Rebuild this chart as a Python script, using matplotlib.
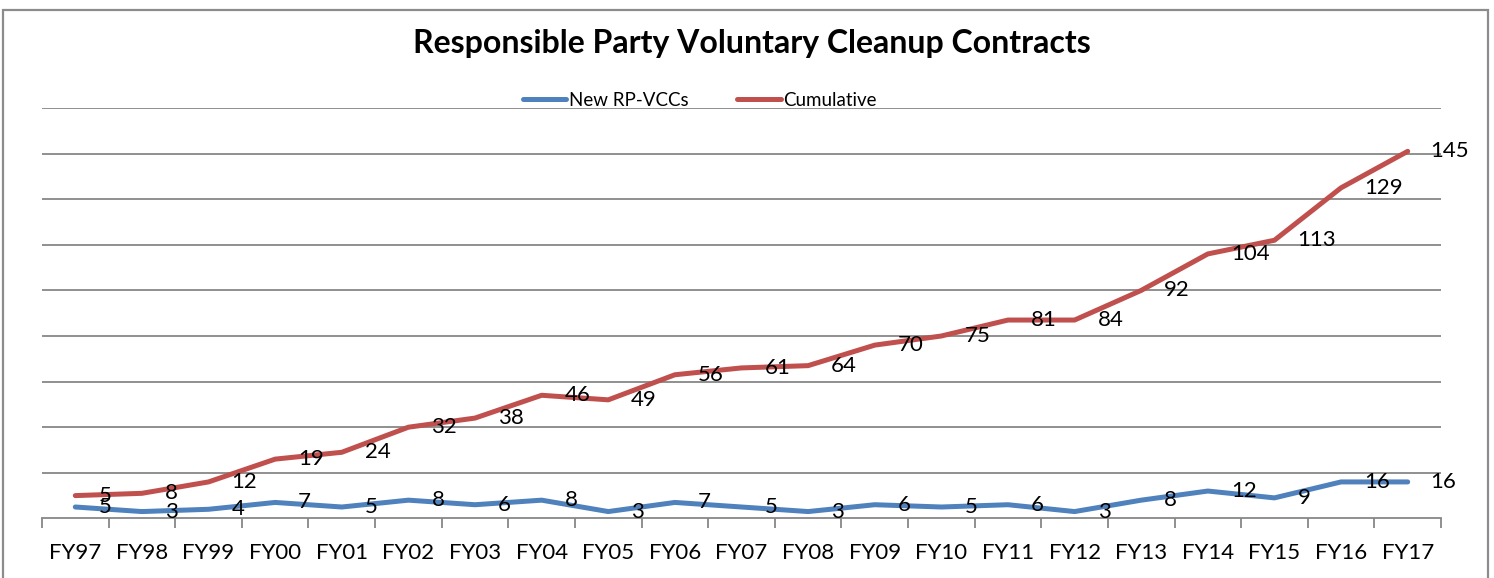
import matplotlib
matplotlib.use("Agg")
import matplotlib.pyplot as plt
from matplotlib.patches import Rectangle
from matplotlib.lines import Line2D
import matplotlib.transforms as mtransforms

plt.rcParams['font.family'] = ['Lato', 'DejaVu Sans']

# data
years = ["FY97", "FY98", "FY99", "FY00", "FY01", "FY02", "FY03", "FY04", "FY05", "FY06", "FY07",
         "FY08", "FY09", "FY10", "FY11", "FY12", "FY13", "FY14", "FY15", "FY16", "FY17"]
new_vccs = [5, 3, 4, 7, 5, 8, 6, 8, 3, 7, 5, 3, 6, 5, 6, 3, 8, 12, 9, 16, 16]
cumulative = [5, 8, 12, 19, 24, 32, 38, 46, 49, 56, 61, 64, 70, 75, 81, 84, 92, 104, 113, 129, 145]

blue = '#4F81BD'
red = '#C0504D'
grid_c = '#878787'

W, H = 1494, 578
fig = plt.figure(figsize=(W / 100, H / 100), dpi=100)

# chart frame
fig.patches.append(Rectangle((3 / W, -0.05), (1488 - 3) / W, 1 - 10 / H + 0.05,
                             transform=fig.transFigure, fill=False,
                             edgecolor='#8c8c8c', lw=1.6))

ax = fig.add_axes([42 / W, 1 - 518.4 / H, (1441 - 42) / W, (518.4 - 108) / H])

x = list(range(len(years)))
# stacked line chart (like the excel original)
stacked = [a + b for a, b in zip(new_vccs, cumulative)]
ax.plot(x, new_vccs, color=blue, lw=3.6, solid_capstyle='round', solid_joinstyle='round', zorder=3)
ax.plot(x, stacked, color=red, lw=3.6, solid_capstyle='round', solid_joinstyle='round', zorder=3)

# data labels right of points
off = mtransforms.offset_copy(ax.transData, fig=fig, x=23, y=0, units='dots')
for i in x:
    ax.text(i, new_vccs[i], str(new_vccs[i]), transform=off, ha='left', va='center',
            fontsize=16, color='black', zorder=4)
    ax.text(i, stacked[i], str(cumulative[i]), transform=off, ha='left', va='center',
            fontsize=16, color='black', zorder=4)

ax.set_xlim(-0.5, len(years) - 0.5)
ax.set_ylim(0, 180)
ax.set_yticks(range(20, 181, 20))
ax.yaxis.grid(True, color=grid_c, lw=1.3)
ax.tick_params(axis='y', left=False, labelleft=False)

ax.set_xticks([i - 0.5 for i in range(len(years) + 1)])
ax.set_xticklabels([])
ax.set_xticks(x, minor=True)
ax.set_xticklabels(years, minor=True, fontsize=16)
ax.tick_params(axis='x', which='major', length=7, color=grid_c, width=1.3)
ax.tick_params(axis='x', which='minor', length=0, pad=18)

for s in ['left', 'right', 'top']:
    ax.spines[s].set_visible(False)
ax.spines['bottom'].set_color(grid_c)
ax.spines['bottom'].set_linewidth(1.3)

fig.text(752 / W, 1 - 44 / H, "Responsible Party Voluntary Cleanup Contracts",
         ha='center', va='center', fontsize=23, fontweight='bold')

handles = [Line2D([], [], color=blue, lw=3.6, solid_capstyle='round'),
           Line2D([], [], color=red, lw=3.6, solid_capstyle='round')]
fig.legend(handles, ["New RP-VCCs", "Cumulative"], loc='center',
           bbox_to_anchor=(700 / W, 1 - 100 / H), ncol=2, frameon=False,
           fontsize=13.5, handlelength=2.3, handletextpad=0.15, columnspacing=2.6,
           borderpad=0)

fig.savefig("out.png", dpi=100, facecolor='white')
